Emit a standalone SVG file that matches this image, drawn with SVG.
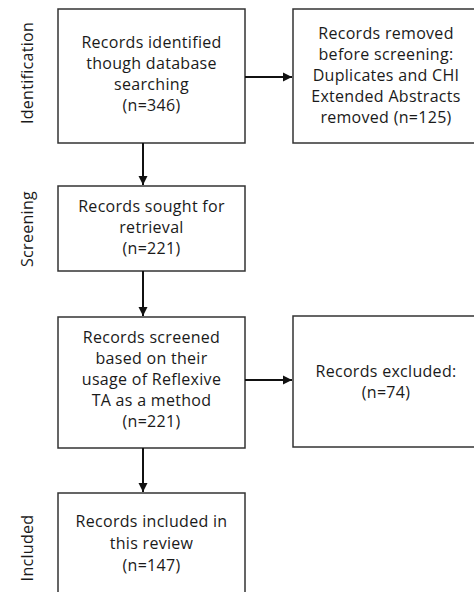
<svg xmlns="http://www.w3.org/2000/svg" width="474" height="592" viewBox="0 0 474 592">
<defs>
<marker id="ah" markerWidth="10" markerHeight="10" refX="9" refY="5" orient="auto" markerUnits="userSpaceOnUse">
<path d="M0,0.5 L9,5 L0,9.5 Z" fill="#111"/>
</marker>
<style>
.box{fill:#fff;stroke:#333;stroke-width:1.5}
.t{font-family:"Open Sans","Liberation Sans",sans-serif;font-size:16px;letter-spacing:0.3px;fill:#1a1a1a;text-anchor:middle}
.c{stroke:#111;stroke-width:2;fill:none;marker-end:url(#ah)}
</style>
</defs>
<rect width="474" height="592" fill="#fff"/>
<g id="stages">
<text class="t" transform="translate(33,73) rotate(-90)">Identification</text>
<text class="t" transform="translate(33,229) rotate(-90)">Screening</text>
<text class="t" transform="translate(33,548) rotate(-90)">Included</text>
</g>
<g id="n1">
<rect class="box" x="58" y="9" width="187" height="134"/>
<text class="t" x="151.5" y="48">Records identified</text>
<text class="t" x="151.5" y="69">though database</text>
<text class="t" x="151.5" y="90">searching</text>
<text class="t" x="151.5" y="111">(n=346)</text>
</g>
<g id="n2">
<rect class="box" x="293" y="9" width="187" height="134"/>
<text class="t" x="386" y="39">Records removed</text>
<text class="t" x="386" y="60">before screening:</text>
<text class="t" x="386" y="81">Duplicates and CHI</text>
<text class="t" x="386" y="102">Extended Abstracts</text>
<text class="t" x="386" y="123">removed (n=125)</text>
</g>
<g id="n3">
<rect class="box" x="58" y="186" width="187" height="85"/>
<text class="t" x="151.5" y="212">Records sought for</text>
<text class="t" x="151.5" y="233">retrieval</text>
<text class="t" x="151.5" y="254">(n=221)</text>
</g>
<g id="n4">
<rect class="box" x="58" y="317" width="187" height="131"/>
<text class="t" x="151.5" y="343">Records screened</text>
<text class="t" x="151.5" y="364">based on their</text>
<text class="t" x="151.5" y="385">usage of Reflexive</text>
<text class="t" x="151.5" y="406">TA as a method</text>
<text class="t" x="151.5" y="427">(n=221)</text>
</g>
<g id="n5">
<rect class="box" x="293" y="316" width="187" height="131"/>
<text class="t" x="386" y="377">Records excluded:</text>
<text class="t" x="386" y="398">(n=74)</text>
</g>
<g id="n6">
<rect class="box" x="58" y="493" width="187" height="110"/>
<text class="t" x="151.5" y="527">Records included in</text>
<text class="t" x="151.5" y="549">this review</text>
<text class="t" x="151.5" y="571">(n=147)</text>
</g>
<g id="connectors">
<line class="c" x1="245" y1="77" x2="292" y2="77"/>
<line class="c" x1="143" y1="143" x2="143" y2="185"/>
<line class="c" x1="143" y1="271" x2="143" y2="316"/>
<line class="c" x1="245" y1="380" x2="292" y2="380"/>
<line class="c" x1="143" y1="448" x2="143" y2="492"/>
</g>
</svg>
